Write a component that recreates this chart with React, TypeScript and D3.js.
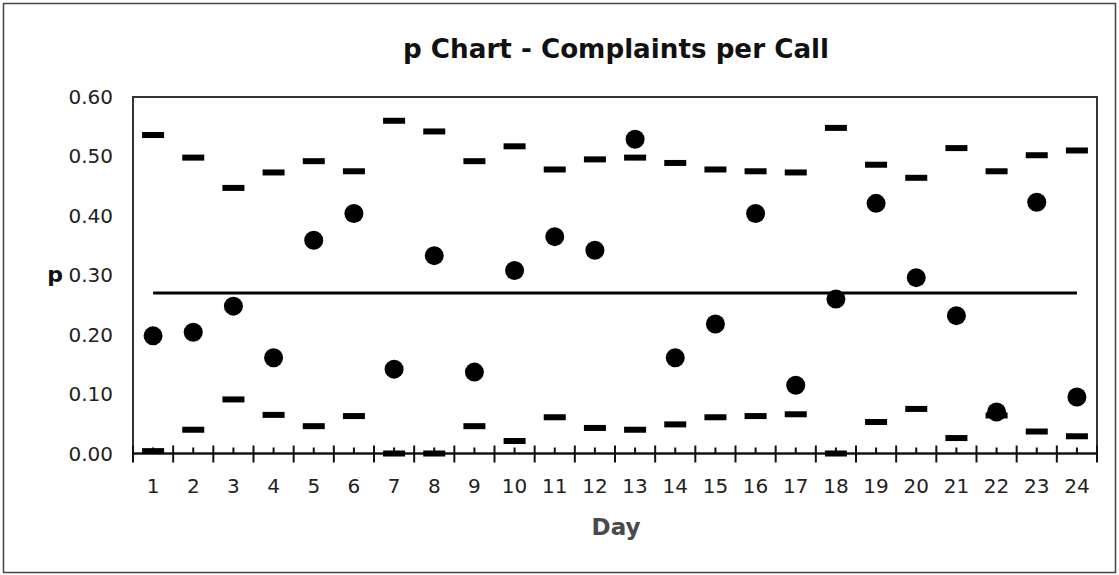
import React from "react";
import * as d3 from "d3";

const days: number[] = Array.from({ length: 24 }, (_, i) => i + 1);
const pValues: number[] = [0.198, 0.204, 0.248, 0.161, 0.359, 0.404, 0.142, 0.333, 0.137, 0.308, 0.365, 0.342, 0.529, 0.161, 0.218, 0.404, 0.115, 0.26, 0.421, 0.296, 0.232, 0.07, 0.423, 0.095];
const ucl: number[] = [0.536, 0.498, 0.447, 0.473, 0.492, 0.475, 0.56, 0.542, 0.492, 0.517, 0.478, 0.495, 0.498, 0.489, 0.478, 0.475, 0.473, 0.548, 0.486, 0.464, 0.514, 0.475, 0.502, 0.51];
const lcl: number[] = [0.004, 0.04, 0.091, 0.065, 0.046, 0.063, 0, 0, 0.046, 0.021, 0.061, 0.043, 0.04, 0.049, 0.061, 0.063, 0.066, 0, 0.053, 0.075, 0.026, 0.064, 0.037, 0.029];
const centerLine = 0.27;
const yTicks: number[] = [0, 0.1, 0.2, 0.3, 0.4, 0.5, 0.6];
const title = "p Chart - Complaints per Call";
const xLabel = "Day";
const yLabel = "p";

const W = 1119;
const H = 575;
const left = 133;
const right = 1097;
const top = 97;
const bottom = 453.5;

const FONT = "'DejaVu Sans', Verdana, sans-serif";

export default function App() {
  const x = d3.scaleBand<number>().domain(days).range([left, right]).padding(0);
  const y = d3.scaleLinear().domain([0, 0.6]).range([bottom, top]);
  const bw = x.bandwidth();
  const cx = (d: number) => (x(d) as number) + bw / 2;
  const fmt = d3.format(".2f");

  return (
    <svg width={W} height={H} style={{ position: "absolute", left: 0, top: 0, display: "block", background: "#fff" }}>
      <rect x={3.5} y={3.5} width={1112} height={569} fill="#fff" stroke="#444" strokeWidth={1.5} />
      <text x={616} y={58} textAnchor="middle" fontFamily={FONT} fontWeight="bold" fontSize={26} textLength={426} lengthAdjust="spacingAndGlyphs" fill="#111">{title}</text>

      {/* plot frame */}
      <rect x={left} y={top} width={right - left} height={bottom - top} fill="none" stroke="#333" strokeWidth={2} />

      {/* y tick labels */}
      {yTicks.map((t) => (
        <text key={t} x={113} y={y(t) + 7} textAnchor="end" fontFamily={FONT} fontSize={20} fill="#222">{fmt(t)}</text>
      ))}
      <text x={55} y={y(0.3) + 7} textAnchor="middle" fontFamily={FONT} fontWeight="bold" fontSize={22} fill="#111">{yLabel}</text>

      {/* x axis */}
      <line x1={left} x2={right} y1={bottom} y2={bottom} stroke="#111" strokeWidth={2} />
      {days.map((d) => (
        <line key={"maj" + d} x1={x(d) as number} x2={x(d) as number} y1={bottom - 8} y2={bottom + 9} stroke="#111" strokeWidth={2} />
      ))}
      <line x1={right} x2={right} y1={bottom - 8} y2={bottom + 9} stroke="#111" strokeWidth={2} />
      {days.map((d) => (
        <line key={"min" + d} x1={cx(d)} x2={cx(d)} y1={bottom - 6} y2={bottom} stroke="#111" strokeWidth={2} />
      ))}
      {days.map((d) => (
        <text key={"xl" + d} x={cx(d)} y={493} textAnchor="middle" fontFamily={FONT} fontSize={20} fill="#222">{d}</text>
      ))}
      <text x={616} y={535} textAnchor="middle" fontFamily={FONT} fontWeight="bold" fontSize={23} fill="#4a4a4a">{xLabel}</text>

      {/* center line */}
      <line x1={cx(1)} x2={cx(24)} y1={y(centerLine)} y2={y(centerLine)} stroke="#000" strokeWidth={3} />

      {/* UCL / LCL dashes */}
      {days.map((d, i) => (
        <rect key={"u" + d} x={cx(d) - 11} y={y(ucl[i]) - 3} width={22} height={6} fill="#000" />
      ))}
      {days.map((d, i) => (
        <rect key={"l" + d} x={cx(d) - 11} y={y(lcl[i]) - 3} width={22} height={6} fill="#000" />
      ))}

      {/* points */}
      {days.map((d, i) => (
        <circle key={"p" + d} cx={cx(d)} cy={y(pValues[i])} r={9.5} fill="#000" />
      ))}
    </svg>
  );
}
